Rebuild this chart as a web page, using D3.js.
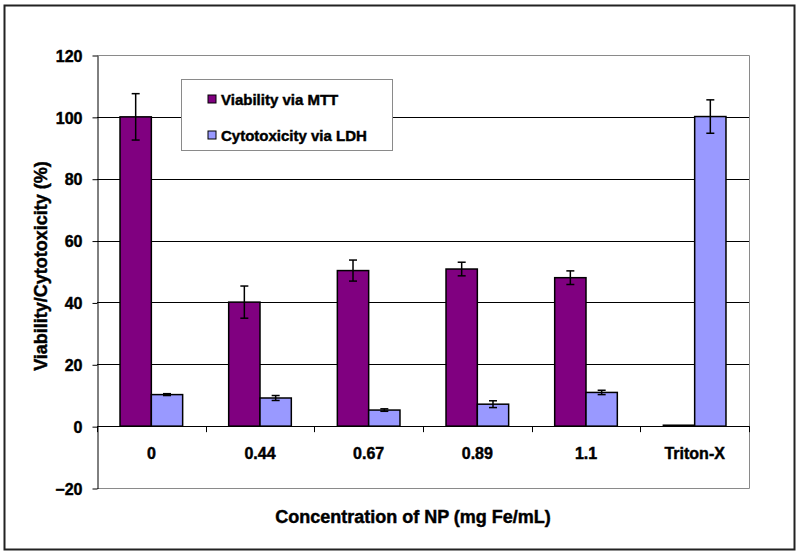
<!DOCTYPE html>
<meta charset="utf-8">
<head>
<script src="https://cdn.jsdelivr.net/npm/d3@7"></script>
<style>
  body { margin: 0; background: #fff; }
  text { font-family: "Liberation Sans", Arial, sans-serif; font-weight: bold; fill: #000; stroke: #000; stroke-width: 0.45px; }
  .tick text { font-size: 16px; }
</style>
</head>
<body>
<svg id="svg"></svg>
<script>
var categories = ["0", "0.44", "0.67", "0.89", "1.1", "Triton-X"];
var series = ["Viability via MTT", "Cytotoxicity via LDH"];
var mtt = [100, 40.1, 50.3, 50.8, 48.0, 0.3];
var mttErr = [7.5, 5.2, 3.4, 2.2, 2.2, 0];
var ldh = [10.2, 9.1, 5.2, 7.1, 10.9, 100.1];
var ldhErr = [0.3, 0.8, 0.4, 1.1, 0.7, 5.4];
var yTicks = [-20, 0, 20, 40, 60, 80, 100, 120];
var colors = ["#800080", "#9999ff"];

var width = 800, height = 555;
var plot = { left: 97, right: 749, top: 55, bottom: 488 };

var svg = d3.select("#svg").attr("width", width).attr("height", height);

// outer frame
svg.append("rect")
  .attr("x", 4.5).attr("y", 5.5).attr("width", 790).attr("height", 544)
  .attr("fill", "#fff").attr("stroke", "#222").attr("stroke-width", 2);

var y = d3.scaleLinear().domain([-20, 120]).range([plot.bottom, plot.top]);
var x0 = d3.scaleBand().domain(categories).range([plot.left, plot.right]);
var x1 = d3.scaleBand().domain(series).range([0, x0.bandwidth()]).paddingOuter(0.735);

// gridlines
svg.append("g").selectAll("line")
  .data(yTicks.filter(d => d > 0 && d < 120))
  .enter().append("line")
  .attr("x1", plot.left).attr("x2", plot.right)
  .attr("y1", d => Math.round(y(d)) + 0.5).attr("y2", d => Math.round(y(d)) + 0.5)
  .attr("stroke", "#000");

// plot area border (grey)
svg.append("path")
  .attr("d", "M" + plot.left + "," + (plot.top + 0.5) + "H" + (plot.right + 0.5) +
    "V" + (plot.bottom + 0.5) + "H" + plot.left)
  .attr("fill", "none").attr("stroke", "#8a8a8a");

// y axis
var yAxis = svg.append("g")
  .attr("transform", "translate(" + (plot.left + 0.5) + ",0.5)")
  .call(d3.axisLeft(y).tickValues(yTicks).tickSize(5).tickSizeOuter(0).tickPadding(10));
yAxis.select(".domain").attr("stroke", "#000");
yAxis.selectAll(".tick line").attr("stroke", "#000");
yAxis.selectAll(".tick text").attr("dy", "0.36em").style("font-size", "16px");

// bars
var data = categories.map((c, i) => ({
  cat: c,
  vals: [
    { s: series[0], v: mtt[i], e: mttErr[i] },
    { s: series[1], v: ldh[i], e: ldhErr[i] }
  ]
}));

var groups = svg.append("g").selectAll("g")
  .data(data).enter().append("g")
  .attr("transform", d => "translate(" + x0(d.cat) + ",0)");

groups.selectAll("rect")
  .data(d => d.vals).enter().append("rect")
  .attr("x", d => x1(d.s))
  .attr("y", d => y(d.v))
  .attr("width", x1.bandwidth())
  .attr("height", d => Math.max(y(0) - y(d.v), 0.5))
  .attr("fill", (d, i) => colors[i])
  .attr("stroke", "#000").attr("stroke-width", 1.5);

// zero line with category ticks
svg.append("line")
  .attr("x1", plot.left).attr("x2", plot.right)
  .attr("y1", Math.round(y(0)) + 0.5).attr("y2", Math.round(y(0)) + 0.5)
  .attr("stroke", "#000");
var bounds = categories.map(c => x0(c)).concat([plot.right]);
svg.append("g").selectAll("line")
  .data(bounds).enter().append("line")
  .attr("x1", d => Math.round(d) + 0.5).attr("x2", d => Math.round(d) + 0.5)
  .attr("y1", y(0)).attr("y2", y(0) + 6)
  .attr("stroke", "#000");

// error bars
var err = groups.selectAll("g.err")
  .data(d => d.vals.filter(v => v.e > 0)).enter().append("g")
  .attr("class", "err")
  .attr("stroke", "#000").attr("stroke-width", 1.5);
err.append("line")
  .attr("x1", d => x1(d.s) + x1.bandwidth() / 2).attr("x2", d => x1(d.s) + x1.bandwidth() / 2)
  .attr("y1", d => y(d.v + d.e)).attr("y2", d => y(d.v - d.e));
err.selectAll("line.cap")
  .data(d => [d.v + d.e, d.v - d.e].map(v => ({ s: d.s, v: v })))
  .enter().append("line").attr("class", "cap")
  .attr("x1", d => x1(d.s) + x1.bandwidth() / 2 - 4).attr("x2", d => x1(d.s) + x1.bandwidth() / 2 + 4)
  .attr("y1", d => y(d.v)).attr("y2", d => y(d.v));

// category labels
svg.append("g").selectAll("text")
  .data(categories).enter().append("text")
  .attr("x", d => x0(d) + x0.bandwidth() / 2)
  .attr("y", 459)
  .attr("text-anchor", "middle")
  .style("font-size", "16px")
  .text(d => d);

// axis titles
svg.append("text")
  .attr("x", 413).attr("y", 523)
  .attr("text-anchor", "middle")
  .style("font-size", "18px")
  .text("Concentration of NP (mg Fe/mL)");

svg.append("text")
  .attr("transform", "translate(47,266) rotate(-90)")
  .attr("text-anchor", "middle")
  .style("font-size", "18px")
  .text("Viability/Cytotoxicity (%)");

// legend
var legend = svg.append("g").attr("transform", "translate(181,79)");
legend.append("rect")
  .attr("x", 0.5).attr("y", 0.5).attr("width", 211).attr("height", 71)
  .attr("fill", "#fff").attr("stroke", "#8a8a8a");
var items = legend.selectAll("g.item")
  .data(series).enter().append("g").attr("class", "item")
  .attr("transform", (d, i) => "translate(27," + (20 + i * 36) + ")");
items.append("rect")
  .attr("x", 0).attr("y", -4).attr("width", 8).attr("height", 8)
  .attr("fill", (d, i) => colors[i]).attr("stroke", "#000");
items.append("text")
  .attr("x", 13).attr("y", 5.5)
  .style("font-size", "15px")
  .text(d => d);
</script>
</body>
